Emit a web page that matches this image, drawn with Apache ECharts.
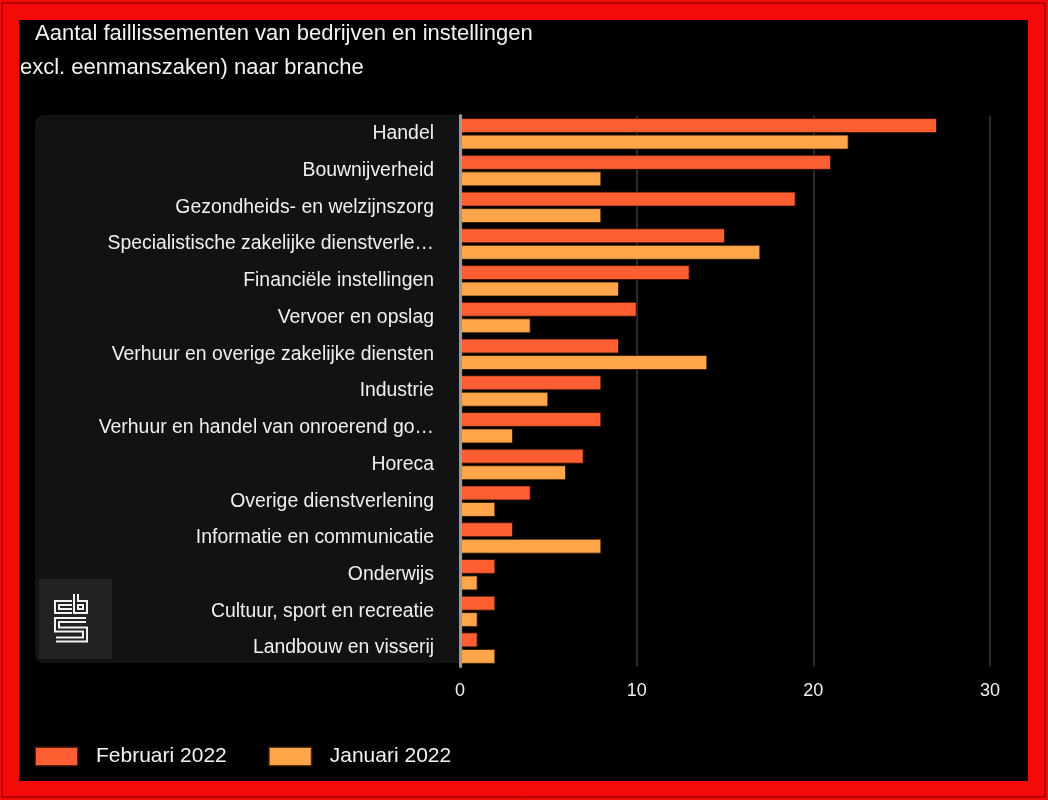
<!DOCTYPE html>
<html>
<head>
<meta charset="utf-8">
<script src="https://cdn.jsdelivr.net/npm/echarts@6/dist/echarts.min.js"></script>
<style>
  html, body { margin: 0; padding: 0; background: #000; }
  #chart { width: 1048px; height: 800px; }
</style>
</head>
<body>
<div id="chart"></div>
<script>
const titleLine1 = 'Aantal faillissementen van bedrijven en instellingen';
const titleLine2 = 'excl. eenmanszaken) naar branche';
const categories = [
  'Handel',
  'Bouwnijverheid',
  'Gezondheids- en welzijnszorg',
  'Specialistische zakelijke dienstverle\u2026',
  'Financiële instellingen',
  'Vervoer en opslag',
  'Verhuur en overige zakelijke diensten',
  'Industrie',
  'Verhuur en handel van onroerend go\u2026',
  'Horeca',
  'Overige dienstverlening',
  'Informatie en communicatie',
  'Onderwijs',
  'Cultuur, sport en recreatie',
  'Landbouw en visserij'
];
const seriesNames = ['Februari 2022', 'Januari 2022'];
const februari2022 = [27, 21, 19, 15, 13, 10, 9, 8, 8, 7, 4, 3, 2, 2, 1];
const januari2022 = [22, 8, 8, 17, 9, 4, 14, 5, 3, 6, 2, 8, 1, 1, 2];
const xTicks = [0, 10, 20, 30];

const FONT = '"Liberation Sans", Arial, Helvetica, sans-serif';
const chart = echarts.init(document.getElementById('chart'));

const logoStroke = function (points) {
  return [
    { type: 'polyline', z: -8, shape: { points: points }, style: { stroke: '#f2f2f2', lineWidth: 6, fill: null, lineJoin: 'miter' } },
    { type: 'polyline', z: -7, shape: { points: points }, style: { stroke: '#222222', lineWidth: 2, fill: null, lineJoin: 'miter' } }
  ];
};

const graphics = [
  { type: 'rect', z: -20, shape: { x: 0, y: 0, width: 1048, height: 800 }, style: { fill: '#f50a0a' } },
  { type: 'rect', z: -19, shape: { x: 2, y: 3, width: 1043, height: 794 }, style: { fill: null, stroke: '#7a0000', lineWidth: 1 } },
  { type: 'rect', z: -18, shape: { x: 19, y: 20, width: 1009, height: 761 }, style: { fill: '#000000' } },
  { type: 'rect', z: -17, shape: { x: 35, y: 115, width: 428, height: 548, r: [9, 0, 0, 9] }, style: { fill: '#121212' } },
  { type: 'rect', z: -16, shape: { x: 39, y: 579, width: 73, height: 80 }, style: { fill: '#222222' } }
].concat(
  logoStroke([[72, 603], [57, 603], [57, 611], [72, 611]]),
  logoStroke([[76, 594], [76, 611], [85, 611], [85, 603], [76, 603]]),
  logoStroke([[86, 620], [57, 620], [57, 629.5], [85, 629.5], [85, 639.5], [56, 639.5]])
);

chart.setOption({
  backgroundColor: '#000',
  animation: false,
  textStyle: { fontFamily: FONT },
  graphic: graphics,
  title: [
    { text: titleLine1, left: 35, top: 23, padding: 0, textStyle: { color: '#f2f2f2', fontSize: 22, fontWeight: 'normal', fontFamily: FONT } },
    { text: titleLine2, left: 20, top: 57, padding: 0, textStyle: { color: '#f2f2f2', fontSize: 22, fontWeight: 'normal', fontFamily: FONT } }
  ],
  legend: {
    data: seriesNames,
    left: 34,
    top: 746,
    padding: 0,
    itemWidth: 43,
    itemHeight: 19,
    itemGap: 41,
    icon: 'rect',
    textStyle: { color: '#f2f2f2', fontSize: 21, fontFamily: FONT, padding: [0, 0, 0, 13] }
  },
  grid: { left: 460, right: 58, top: 115.5, bottom: 133.5, containLabel: false },
  xAxis: {
    type: 'value',
    min: xTicks[0],
    max: xTicks[xTicks.length - 1],
    interval: 10,
    axisLine: { show: false },
    axisTick: { show: false },
    splitLine: { show: true, lineStyle: { color: '#3a3a3a', width: 1.5 } },
    axisLabel: { color: '#f0f0f0', fontSize: 18, margin: 16, fontFamily: FONT }
  },
  yAxis: {
    type: 'category',
    data: categories,
    inverse: true,
    z: 10,
    axisLine: { show: true, lineStyle: { color: '#9a9a9a', width: 3 } },
    axisTick: { show: false },
    splitLine: { show: false },
    axisLabel: { color: '#f0f0f0', fontSize: 19.4, margin: 26, fontFamily: FONT }
  },
  series: [
    {
      name: seriesNames[0], type: 'bar', data: februari2022, barWidth: 15, barGap: '10%',
      itemStyle: { color: '#ff5e33', borderColor: 'rgba(40,15,5,0.8)', borderWidth: 1 }
    },
    {
      name: seriesNames[1], type: 'bar', data: januari2022, barWidth: 15, barGap: '10%',
      itemStyle: { color: '#ffa64a', borderColor: 'rgba(40,20,5,0.8)', borderWidth: 1 }
    }
  ]
});
</script>
</body>
</html>
